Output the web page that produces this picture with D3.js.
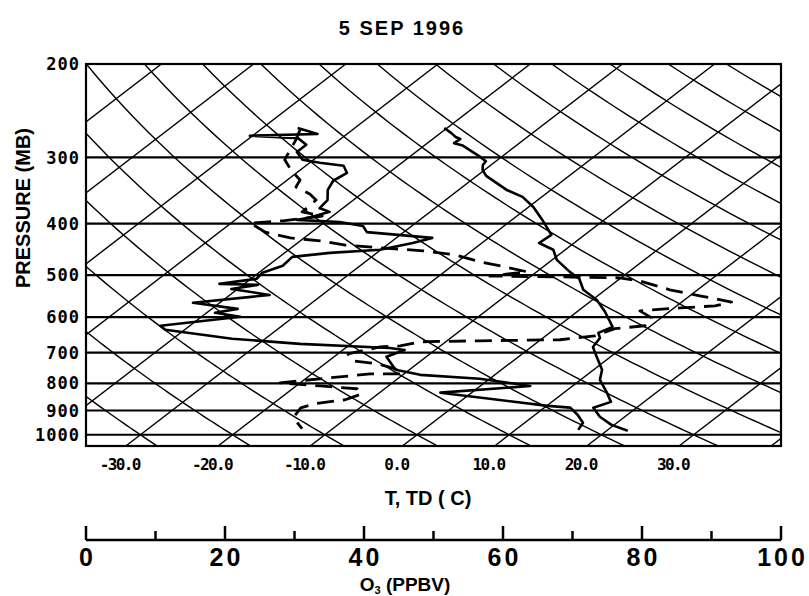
<!DOCTYPE html>
<html><head><meta charset="utf-8">
<script src="https://cdn.jsdelivr.net/npm/d3@7"></script>
<style>body{margin:0;background:#fff}</style>
</head><body>
<svg id="c" width="809" height="596" xmlns="http://www.w3.org/2000/svg"></svg>
<script>
// ---------- data ----------
const title = "5 SEP 1996";
const pressureTicks = [200, 300, 400, 500, 600, 700, 800, 900, 1000];
const tempTicks = [-30, -20, -10, 0, 10, 20, 30];
const o3Ticks = [0, 20, 40, 60, 80, 100];
const o3MinorTicks = [10, 30, 50, 70, 90];
const isothermValues = [-90, -80, -70, -60, -50, -40, -30, -20, -10, 0, 10, 20, 30, 40, 50];
const adiabatValues = [-40, -30, -20, -10, 0, 10, 20, 30, 40, 50, 60, 70, 80, 90, 100, 110, 120, 130, 140, 150];

// temperature (C) vs pressure (mb)
const tempP = [264, 270, 274.5, 277, 282, 285, 299, 305, 310, 317, 325, 345.5, 356, 372, 393.5, 420, 435, 448, 468, 493, 508, 533, 557, 587, 626, 642.5, 657, 683, 713, 754, 788, 830, 867, 889, 925, 958, 983];
const tempT = [-40.3, -38.8, -37.8, -37.0, -37.1, -35.8, -32.4, -31.1, -30.9, -30.2, -29.0, -24.8, -22.1, -19.5, -16.7, -13.6, -13.8, -11.3, -9.5, -6.4, -4.4, -2.4, 0.5, 3.1, 6.0, 5.3, 6.2, 6.7, 8.5, 10.9, 12.1, 14.5, 16.4, 15.3, 17.3, 19.7, 22.3];

// dew point (C) vs pressure (mb)
const dewP = [264, 271, 273, 276, 284, 293, 303, 307, 311, 321, 332, 345.5, 361, 374, 380, 388, 393.5, 397, 404, 415, 425.5, 435, 448, 454, 462, 480, 495, 508, 519.5, 521.7, 531, 545, 564, 579, 589, 599, 623, 634, 659, 674, 686, 692, 713, 754, 771, 784, 809, 833, 882, 889, 917, 949, 979];
const dewT = [-56.2, -53.2, -60.3, -54.7, -52.9, -52.9, -51.2, -48.9, -45.9, -44.5, -44.9, -44.2, -42.8, -42.5, -40.9, -42.1, -43.3, -38.4, -35.3, -34.0, -26.1, -27.5, -30.1, -35.1, -38.6, -38.4, -39.6, -39.4, -42.7, -38.4, -40.7, -35.7, -42.9, -37.2, -39.1, -35.8, -43.2, -42.1, -33.6, -25.5, -15.2, -13.3, -14.3, -11.5, -8.1, -1.1, 5.4, -3.4, 10.1, 12.8, 14.6, 16.3, 16.8];

// ozone (ppbv) vs pressure (mb)
const o3P = [266, 278, 290, 303, 317, 331, 341, 351.5, 361, 370, 380, 387, 395, 399, 415, 425.5, 431, 439, 444, 450, 458, 472, 482.5, 493, 502, 504, 506, 513, 533, 547, 562, 571.5, 576.5, 584, 602, 623, 631, 651, 662, 665, 668, 680, 683, 704, 725.5, 735, 751, 768, 768, 781, 798, 809, 819, 837, 859, 874, 890, 925, 953, 974];
const o3V = [30.8, 30.2, 29.4, 28.6, 29.5, 30.8, 30.2, 32.2, 33.1, 32.2, 31.1, 34.0, 28.3, 23.6, 25.8, 29.4, 33.7, 37.3, 42.3, 48.5, 53.1, 56.7, 60.3, 63.5, 58.1, 68.2, 76.8, 79.7, 84.0, 88.3, 92.9, 90.5, 85.5, 79.7, 81.4, 80.4, 76.1, 73.2, 68.2, 56.7, 48.1, 45.2, 42.3, 37.7, 38.3, 42.0, 44.5, 45.5, 40.9, 35.1, 27.9, 33.7, 39.0, 39.7, 37.3, 32.9, 30.9, 29.9, 30.5, 31.1];

// ---------- layout ----------
const plot = {left: 86, right: 781, top: 64, bottom: 446};
const svg = d3.select("#c");
const y = d3.scaleLog().domain([200, 1050]).range([plot.top, plot.bottom]);
const xT = d3.scaleLinear().domain([0, 10]).range([417, 509.2]);
const skew = 1.3;
const y1000 = y(1000);
const sx = (T, p) => xT(T) + skew * (y1000 - y(p));
const xO3 = d3.scaleLinear().domain([0, 100]).range([plot.left, plot.right]);

svg.append("rect").attr("width", 809).attr("height", 596).attr("fill", "#fff");

svg.append("defs").append("clipPath").attr("id", "clip")
  .append("rect").attr("x", plot.left).attr("y", plot.top)
  .attr("width", plot.right - plot.left).attr("height", plot.bottom - plot.top);

const g = svg.append("g").attr("clip-path", "url(#clip)");

// isotherms
g.selectAll(".iso").data(isothermValues).enter().append("line")
  .attr("x1", d => sx(d, 1050)).attr("y1", y(1050))
  .attr("x2", d => sx(d, 200)).attr("y2", y(200))
  .attr("stroke", "#000").attr("stroke-width", 1.4);

// dry adiabats
const pLevels = d3.range(200, 1051, 10);
const adLine = d3.line().x(d => d[0]).y(d => d[1]);
g.selectAll(".ad").data(adiabatValues).enter().append("path")
  .attr("d", th => adLine(pLevels.map(p => {
    const T = (th + 273.15) * Math.pow(p / 1000, 0.286) - 273.15;
    return [sx(T, p), y(p)];
  })))
  .attr("fill", "none").attr("stroke", "#000").attr("stroke-width", 1.4);

// horizontal pressure lines
g.selectAll(".hp").data(pressureTicks).enter().append("line")
  .attr("x1", plot.left).attr("x2", plot.right)
  .attr("y1", d => y(d)).attr("y2", d => y(d))
  .attr("stroke", "#000").attr("stroke-width", 2.2);

// profiles
const tLine = d3.line().x(d => sx(d.v, d.p)).y(d => y(d.p));
const oLine = d3.line().x(d => xO3(d.v)).y(d => y(d.p));
const tempData = tempP.map((p, i) => ({p, v: tempT[i]}));
const dewData = dewP.map((p, i) => ({p, v: dewT[i]}));
const o3Data = o3P.map((p, i) => ({p, v: o3V[i]}));

g.append("path").attr("d", tLine(tempData)).attr("fill", "none")
  .attr("stroke", "#000").attr("stroke-width", 2.6).attr("stroke-linejoin", "round");
g.append("path").attr("d", tLine(dewData)).attr("fill", "none")
  .attr("stroke", "#000").attr("stroke-width", 2.6).attr("stroke-linejoin", "round");
g.append("path").attr("d", oLine(o3Data)).attr("fill", "none")
  .attr("stroke", "#000").attr("stroke-width", 2.8).attr("stroke-dasharray", "17,9")
  .attr("stroke-linejoin", "round");

// border
svg.append("rect").attr("x", plot.left).attr("y", plot.top)
  .attr("width", plot.right - plot.left).attr("height", plot.bottom - plot.top)
  .attr("fill", "none").attr("stroke", "#000").attr("stroke-width", 2.2);

// y tick labels
svg.selectAll(".yl").data(pressureTicks).enter().append("text")
  .attr("x", 80).attr("y", d => y(d)).attr("dy", "0.36em")
  .attr("text-anchor", "end")
  .attr("font-family", "DejaVu Sans Mono").attr("font-weight", "bold")
  .attr("font-size", 17).attr("letter-spacing", 1)
  .text(d => d);

// x tick labels
svg.selectAll(".xl").data(tempTicks).enter().append("text")
  .attr("x", d => sx(d, 1050) - 6).attr("y", 470)
  .attr("text-anchor", "middle")
  .attr("font-family", "DejaVu Sans Mono").attr("font-weight", "bold")
  .attr("font-size", 16).attr("letter-spacing", -1.6)
  .text(d => d.toFixed(1));

// titles
svg.append("text").attr("x", 402).attr("y", 35).attr("text-anchor", "middle")
  .attr("font-family", "Liberation Sans").attr("font-weight", "bold").attr("font-size", 20)
  .attr("letter-spacing", 2)
  .text(title);
svg.append("text").attr("transform", "translate(30,208) rotate(-90)").attr("text-anchor", "middle")
  .attr("font-family", "Liberation Sans").attr("font-weight", "bold").attr("font-size", 20)
  .text("PRESSURE (MB)");
svg.append("text").attr("x", 428).attr("y", 505).attr("text-anchor", "middle")
  .attr("font-family", "Liberation Sans").attr("font-weight", "bold").attr("font-size", 20)
  .text("T, TD ( C)");

// ozone axis
const axY = 540;
svg.append("line").attr("x1", xO3(0)).attr("x2", xO3(100)).attr("y1", axY).attr("y2", axY)
  .attr("stroke", "#000").attr("stroke-width", 2.5);
svg.selectAll(".omaj").data(o3Ticks).enter().append("line")
  .attr("x1", d => xO3(d)).attr("x2", d => xO3(d)).attr("y1", axY - 14).attr("y2", axY)
  .attr("stroke", "#000").attr("stroke-width", 2.5);
svg.selectAll(".omin").data(o3MinorTicks).enter().append("line")
  .attr("x1", d => xO3(d)).attr("x2", d => xO3(d)).attr("y1", axY - 9).attr("y2", axY)
  .attr("stroke", "#000").attr("stroke-width", 2.5);
svg.selectAll(".ol").data(o3Ticks).enter().append("text")
  .attr("x", d => xO3(d) + 1.5).attr("y", 566).attr("text-anchor", "middle")
  .attr("font-family", "Liberation Sans").attr("font-weight", "bold").attr("font-size", 25)
  .attr("letter-spacing", 3)
  .text(d => d);
const ot = svg.append("text").attr("x", 405).attr("y", 591).attr("text-anchor", "middle")
  .attr("font-family", "Liberation Sans").attr("font-weight", "bold").attr("font-size", 19);
ot.append("tspan").text("O");
ot.append("tspan").attr("font-size", 11).attr("dy", 3).text("3");
ot.append("tspan").attr("dy", -3).text(" (PPBV)");
</script>
</body></html>
